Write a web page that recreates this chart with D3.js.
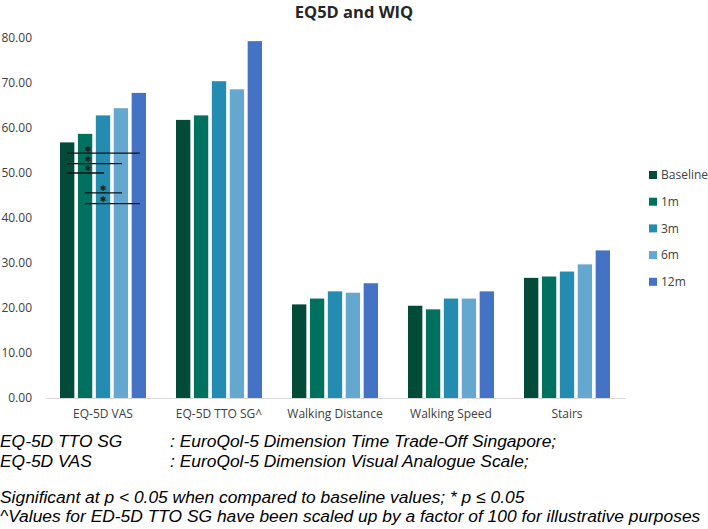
<!DOCTYPE html>
<html>
<head>
<meta charset="utf-8">
<script src="https://cdn.jsdelivr.net/npm/d3@7"></script>
<style>
  html, body { margin: 0; padding: 0; background: #fff; }
  svg { display: block; }
</style>
</head>
<body>
<svg id="chart" width="708" height="529"></svg>
<script>
// ---- data ----
const categories = ["EQ-5D VAS", "EQ-5D TTO SG^", "Walking Distance", "Walking Speed", "Stairs"];
const seriesNames = ["Baseline", "1m", "3m", "6m", "12m"];
const baselineVals = [56.8, 61.8, 20.8, 20.5, 26.7];
const m1Vals = [58.7, 62.8, 22.1, 19.7, 27.0];
const m3Vals = [62.8, 70.4, 23.7, 22.1, 28.1];
const m6Vals = [64.4, 68.6, 23.4, 22.1, 29.7];
const m12Vals = [67.8, 79.3, 25.5, 23.7, 32.8];
const yTicks = [0, 10, 20, 30, 40, 50, 60, 70, 80];
// significance brackets on EQ-5D VAS: from series, to series, level
const sigFrom = ["Baseline", "Baseline", "Baseline", "1m", "1m"];
const sigTo = ["12m", "6m", "3m", "6m", "12m"];
const sigLevel = [54.4, 52.1, 50.0, 45.6, 43.2];
const sigStarSeries = ["1m", "1m", "1m", "3m", "3m"];
const sigMark = "\u2731";
const title = "EQ5D and WIQ";
const footnotes = [
  ["EQ-5D TTO SG", ": EuroQol-5 Dimension Time Trade-Off Singapore;"],
  ["EQ-5D VAS", ": EuroQol-5 Dimension Visual Analogue Scale;"],
  ["Significant at p < 0.05 when compared to baseline values; * p \u2264 0.05", ""],
  ["^Values for ED-5D TTO SG have been scaled up by a factor of 100 for illustrative purposes", ""]
];

const seriesValues = [baselineVals, m1Vals, m3Vals, m6Vals, m12Vals];
const colors = ["#024b39", "#00705f", "#258cb1", "#64a8cf", "#4472c4"];

// ---- chart ----
const svg = d3.select("#chart");
const font = "'Open Sans', sans-serif";

const x0 = d3.scaleBand().domain(categories).range([45, 625]).paddingInner(0).paddingOuter(0);
const x1 = d3.scaleBand().domain(seriesNames).range([15, 101]).paddingInner(0.2).paddingOuter(0);
const y = d3.scaleLinear().domain([0, 80]).range([398, 38]);
const color = d3.scaleOrdinal().domain(seriesNames).range(colors);

// title
svg.append("text")
  .attr("x", 354).attr("y", 18)
  .attr("text-anchor", "middle")
  .style("font-family", font).style("font-size", "16.5px").style("font-weight", "bold")
  .attr("fill", "#262626")
  .text(title);

// y axis labels
const yAxis = d3.axisLeft(y).tickValues(yTicks).tickFormat(d3.format(".2f")).tickSize(0).tickPadding(0);
const yg = svg.append("g").attr("transform", "translate(32,0)").call(yAxis);
yg.select(".domain").remove();
yg.selectAll("text").style("font-family", font).style("font-size", "12px").attr("fill", "#404040");

// bars
const data = [];
categories.forEach((c, ci) => seriesNames.forEach((s, si) => data.push({ c, s, v: seriesValues[si][ci] })));
svg.append("g").selectAll("rect").data(data).join("rect")
  .attr("x", d => x0(d.c) + x1(d.s))
  .attr("y", d => y(d.v))
  .attr("width", x1.bandwidth())
  .attr("height", d => y(0) - y(d.v))
  .attr("fill", d => color(d.s));

// x axis
const xAxis = d3.axisBottom(x0).tickSize(0).tickPadding(11);
const xg = svg.append("g").attr("transform", `translate(0,${y(0)})`).call(xAxis);
xg.select(".domain").attr("stroke", "#d9d9d9").attr("stroke-width", 1.2);
xg.selectAll("text").style("font-family", font).style("font-size", "12px").attr("fill", "#404040");

// significance brackets
const cat0 = categories[0];
const cx = s => x0(cat0) + x1(s) + x1.bandwidth() / 2;
const sig = svg.append("g");
sigLevel.forEach((lv, i) => {
  sig.append("line")
    .attr("x1", cx(sigFrom[i])).attr("x2", cx(sigTo[i]) + 1)
    .attr("y1", y(lv)).attr("y2", y(lv))
    .attr("stroke", "#111").attr("stroke-width", 1.3);
  sig.append("text")
    .attr("x", cx(sigStarSeries[i]) + (sigStarSeries[i] === "1m" ? 3 : 0))
    .attr("y", y(lv) - 1.6)
    .attr("text-anchor", "middle")
    .style("font-family", "'DejaVu Sans', sans-serif").style("font-size", "8px")
    .attr("fill", "#222")
    .text(sigMark);
});

// legend
const lg = svg.append("g");
seriesNames.forEach((s, i) => {
  const ly = 175 + i * 26.7;
  lg.append("rect").attr("x", 649).attr("y", ly - 4).attr("width", 8).attr("height", 8).attr("fill", color(s));
  lg.append("text").attr("x", 661).attr("y", ly).attr("dy", "0.35em")
    .style("font-family", font).style("font-size", "12px").attr("fill", "#404040").text(s);
});

// footnotes
const fy = [447, 467, 503, 522];
footnotes.forEach((f, i) => {
  svg.append("text").attr("x", 0).attr("y", fy[i])
    .style("font-family", "'Liberation Sans', Arial, sans-serif").style("font-size", "17.4px").style("font-style", "italic")
    .attr("fill", "#000").text(f[0]);
  if (f[1]) {
    svg.append("text").attr("x", 170).attr("y", fy[i])
      .style("font-family", "'Liberation Sans', Arial, sans-serif").style("font-size", "17.4px").style("font-style", "italic")
      .attr("fill", "#000").text(f[1]);
  }
});
</script>
</body>
</html>
